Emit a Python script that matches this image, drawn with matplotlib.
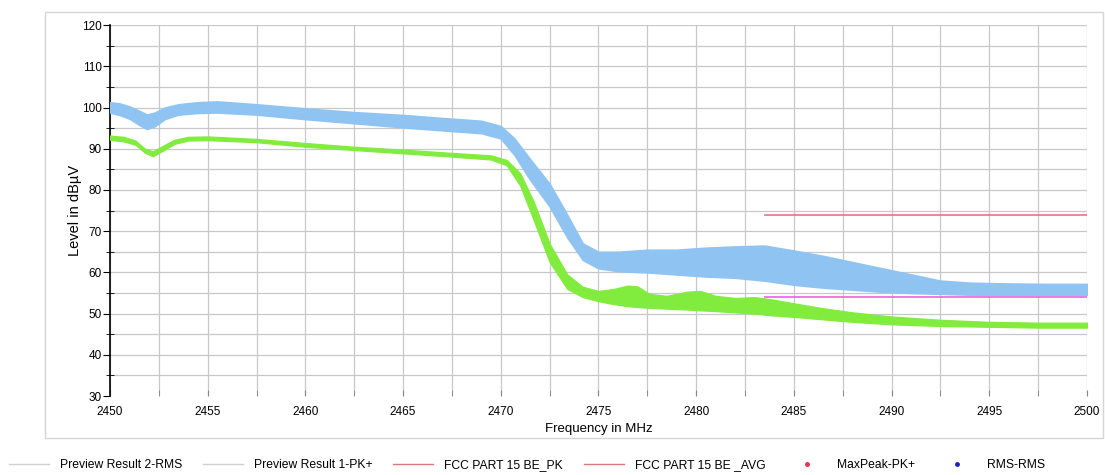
import numpy as np
import matplotlib
matplotlib.use('Agg')
import matplotlib.pyplot as plt
from matplotlib.lines import Line2D
from matplotlib.patches import Rectangle

plt.rcParams['font.family'] = ['Liberation Sans', 'DejaVu Sans']

# Preview Result 1-PK+ (blue trace), read as lower / upper envelope of the noisy band
freq_pk = [2450, 2450.5, 2451, 2451.5, 2451.9, 2452.3, 2452.8, 2453.5, 2454.5, 2455.5,
           2457.5, 2460, 2462.5, 2465, 2467.5, 2469, 2470, 2470.7, 2471.5, 2472.5,
           2473.4, 2474.2, 2475, 2476, 2477.5, 2479, 2480.5, 2482, 2483.5, 2485,
           2486.5, 2488, 2489.5, 2491, 2492.5, 2494, 2496, 2498, 2500]
pk_hi = [101.3, 101, 100.3, 99.2, 98.3, 98.8, 100, 100.8, 101.3, 101.5,
         100.8, 99.8, 98.9, 98.2, 97.3, 96.8, 95.5, 92.5, 87.5, 81.5,
         74, 67, 65, 65, 65.5, 65.5, 66, 66.3, 66.5, 65.3,
         64, 62.5, 61, 59.5, 58, 57.5, 57.3, 57.2, 57.2]
pk_lo = [98.8, 98.2, 97.3, 95.8, 94.8, 95.5, 97.2, 98.3, 98.7, 98.8,
         98.3, 97.2, 96.2, 95.2, 94.3, 93.8, 92.5, 88.5, 82.5, 76,
         68.5, 63, 61, 60.3, 60, 59.5, 59, 58.7, 58, 57,
         56.3, 55.8, 55.3, 55, 54.8, 54.6, 54.6, 54.6, 54.6]

# Preview Result 2-RMS (green trace)
freq_rms = [2450, 2450.7, 2451.3, 2451.8, 2452.2, 2452.7, 2453.3, 2454, 2455, 2457.5,
            2460, 2462.5, 2465, 2467.5, 2469.5, 2470.3, 2471, 2471.7, 2472.5, 2473.4,
            2474.2, 2475, 2475.8, 2476.5, 2477, 2477.6, 2478.5, 2479.5, 2480.2, 2481,
            2482, 2483, 2483.8, 2485, 2486.5, 2488, 2490, 2492.5, 2495, 2497.5, 2500]
rms_hi = [93.2, 92.9, 92.0, 90.0, 89.4, 90.7, 92.2, 92.9, 93.0, 92.4,
          91.4, 90.5, 89.8, 89.0, 88.4, 87.3, 84, 77, 67, 59.5,
          56.5, 55.5, 56, 56.8, 56.6, 54.8, 54.3, 55.3, 55.5, 54.3,
          53.8, 54, 53.5, 52.5, 51.3, 50.3, 49.3, 48.5, 48, 47.8, 47.8]
rms_lo = [92.2, 91.8, 91.0, 89.0, 88.2, 89.5, 91.2, 92.0, 92.1, 91.6,
          90.5, 89.7, 88.9, 88.1, 87.4, 86, 81, 72.5, 62.5, 56,
          54, 53, 52.3, 51.8, 51.6, 51.4, 51.2, 51, 50.8, 50.6,
          50.3, 50, 49.6, 49.2, 48.6, 48, 47.4, 47, 46.8, 46.6, 46.6]

# limit lines
limit_freq = [2483.5, 2500]
limit_pk = [74, 74]
limit_avg = [54, 54]

legend_labels = ['Preview Result 2-RMS', 'Preview Result 1-PK+', 'FCC PART 15 BE_PK',
                 'FCC PART 15 BE _AVG', 'MaxPeak-PK+', 'RMS-RMS']

blue = '#8fc4f2'
green = '#82ec3e'
red = '#e07585'
magenta = '#ee5fe0'


def main():
  fig = plt.figure(figsize=(11.05, 4.75), dpi=100)
  ax = fig.add_axes([0.0995, 0.1663, 0.8842, 0.7807])

  ax.fill_between(freq_pk, pk_lo, pk_hi, color=blue, edgecolor=blue, linewidth=1.2, zorder=3)
  ax.fill_between(freq_rms, rms_lo, rms_hi, color=green, edgecolor=green, linewidth=0.9, zorder=4)
  ax.plot(limit_freq, limit_pk, color=red, linewidth=1.2, zorder=5)
  ax.plot(limit_freq, limit_avg, color=magenta, linewidth=1.2, zorder=5)

  ax.set_xlim(2450, 2500)
  ax.set_ylim(30, 120)
  ax.set_xticks(np.arange(2450, 2501, 5))
  ax.set_xticks(np.arange(2452.5, 2500, 5), minor=True)
  ax.set_yticks(np.arange(30, 121, 10))
  ax.set_yticks(np.arange(35, 120, 10), minor=True)

  ax.grid(True, which='both', color='#c8c8c8', linewidth=0.9, zorder=0)
  ax.set_axisbelow(True)
  ax.yaxis.get_major_ticks()[0].gridline.set_visible(False)

  for s in ['top', 'right', 'bottom']:
    ax.spines[s].set_visible(False)
  ax.spines['left'].set_color('black')
  ax.spines['left'].set_linewidth(1.2)

  ax.tick_params(axis='x', which='both', direction='in', length=4, color='#888888',
                 labelsize=8.5, pad=7)
  ax.tick_params(axis='y', which='major', direction='out', length=5, color='black',
                 labelsize=8.5, pad=1)
  ax.tick_params(axis='y', which='minor', direction='inout', length=6, color='black')

  ax.set_xlabel('Frequency in MHz', fontsize=9.5, labelpad=4)
  ax.set_ylabel('Level in dBµV', fontsize=10.5, labelpad=0)

  # outer frame around the plot
  fig.patches.append(Rectangle((0.041, 0.078), 0.957, 0.897, transform=fig.transFigure,
                               fill=False, edgecolor='#d5d5d5', linewidth=1.0))

  handles = [
    Line2D([], [], color='#d0d0d0', linewidth=1),
    Line2D([], [], color='#d0d0d0', linewidth=1),
    Line2D([], [], color=red, linewidth=1),
    Line2D([], [], color=red, linewidth=1),
    Line2D([], [], color='#e8304a', marker='o', markersize=2.5, linestyle='None'),
    Line2D([], [], color='#2020c0', marker='o', markersize=2.5, linestyle='None'),
  ]
  fig.legend(handles, legend_labels, loc='center', bbox_to_anchor=(0.477, 0.02), ncol=6,
             frameon=False, fontsize=8.7, handlelength=3.3, handletextpad=0.9,
             columnspacing=1.75)

  fig.savefig('out.png', dpi=100)


if __name__ == '__main__':
  main()
